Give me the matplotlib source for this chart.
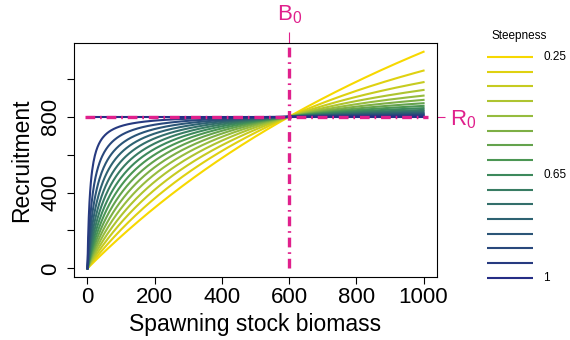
import numpy as np
import matplotlib
matplotlib.use("Agg")
from matplotlib import pyplot as plt
from matplotlib.colors import LinearSegmentedColormap

plt.rcParams['font.family'] = ['Liberation Sans', 'DejaVu Sans']
plt.rcParams['mathtext.default'] = 'regular'
plt.rcParams['lines.scale_dashes'] = False

# stock-recruitment parameters (Beverton-Holt)
R0 = 800
B0 = 600
steepness = [0.25, 0.30, 0.35, 0.40, 0.45, 0.50, 0.55, 0.60,
             0.65, 0.70, 0.75, 0.80, 0.85, 0.90, 0.95, 1.00]
legend_labels = {0.25: '0.25', 0.65: '0.65', 1.00: '1'}
ssb = np.linspace(0, 1000, 501)

magenta = '#e0208c'
cmap = LinearSegmentedColormap.from_list(
    'steep', ['#f7d800', '#9cbf3c', '#3f9058', '#2d5f74', '#252d85'])
colors = [cmap(i / (len(steepness) - 1)) for i in range(len(steepness))]

fig = plt.figure(figsize=(5.7, 3.4), dpi=100)
ax = fig.add_axes([74 / 570, 63 / 340, 363 / 570, 234 / 340])

with np.errstate(invalid='ignore', divide='ignore'):
    for h, c in zip(steepness, colors):
        rec = 4 * h * R0 * ssb / (B0 * (1 - h) + ssb * (5 * h - 1))
        ax.plot(ssb, rec, color=c, lw=1.5)

dd = (0, (7, 3.5, 1.2, 3.5))
ax.axhline(R0, xmin=0.03, xmax=0.975, color=magenta, lw=2.4, ls=dd)
ax.axvline(B0, ymin=0.04, ymax=1, color=magenta, lw=2.4, ls=dd)

ax.set_xlim(-40, 1040)
ax.set_ylim(-45.7, 1189)
ax.set_xticks([0, 200, 400, 600, 800, 1000])
ax.set_yticks([0, 200, 400, 600, 800, 1000])
ax.set_yticklabels(['0', '', '400', '', '800', ''], rotation=90, va='center')
ax.tick_params(labelsize=16, length=5, width=0.8, direction='out')
ax.tick_params(axis='x', pad=2)
ax.tick_params(axis='y', pad=4)
ax.set_xlabel('Spawning stock biomass', fontsize=16.5, labelpad=4)
ax.set_ylabel('Recruitment', fontsize=16.5, labelpad=5)
for s in ax.spines.values():
    s.set_linewidth(0.8)

top = ax.secondary_xaxis('top')
top.set_xticks([B0])
top.set_xticklabels(['B$_0$'])
top.tick_params(colors=magenta, labelsize=16, length=8, width=0.8, pad=4)
top.spines['top'].set_visible(False)

right = ax.secondary_yaxis('right')
right.set_yticks([R0])
right.set_yticklabels(['R$_0$'])
right.tick_params(colors=magenta, labelsize=16, length=6, width=0.8, pad=3)
right.spines['right'].set_visible(False)

# legend
lax = fig.add_axes([487 / 570, 55 / 340, 46 / 570, 235 / 340])
lax.set_xlim(0, 1)
lax.set_ylim(15.48, -0.475)
lax.axis('off')
for i, (h, c) in enumerate(zip(steepness, colors)):
    lax.plot([0, 1], [i, i], color=c, lw=1.5)
    if h in legend_labels:
        lax.text(1.22, i, legend_labels[h], fontsize=8.5, va='center', ha='left')
lax.text(0.7, -1.4, 'Steepness', fontsize=8.5, ha='center', va='center')

fig.savefig('out.png', dpi=100)
